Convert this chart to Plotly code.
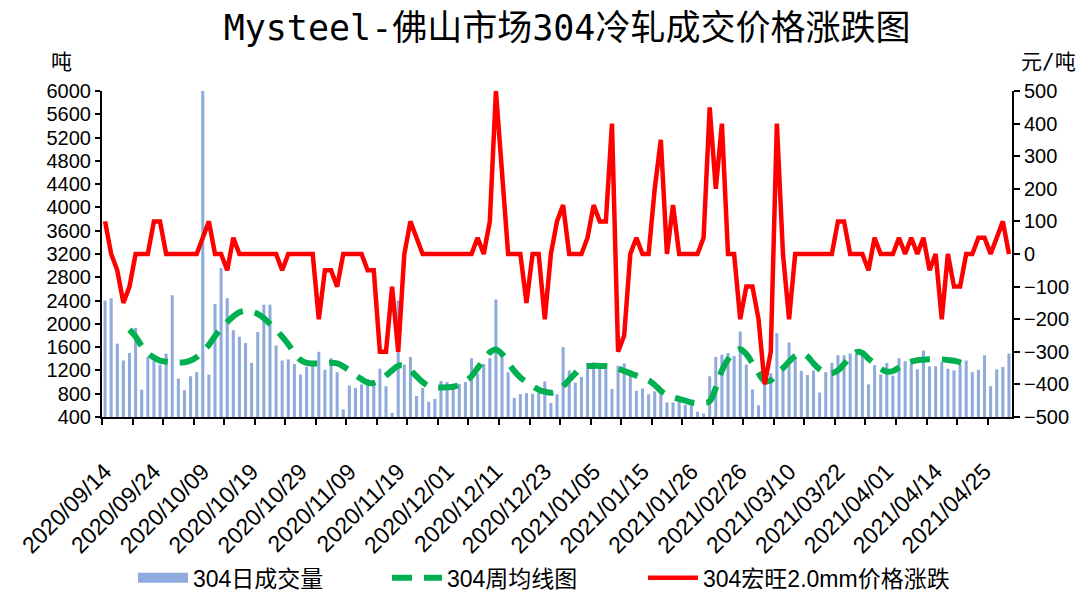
#!/usr/bin/env python
"""
Foshan 304 cold rolled: daily volume, weekly average and price change
"""

import plotly.graph_objects as go

# tick labels on the category axis, one every 8 trading days
tick_labels = [
    '2020/09/14', '2020/09/24', '2020/10/09', '2020/10/19', '2020/10/29',
    '2020/11/09', '2020/11/19', '2020/12/01', '2020/12/11', '2020/12/23',
    '2021/01/05', '2021/01/15', '2021/01/26', '2021/02/26', '2021/03/10',
    '2021/03/22', '2021/04/01', '2021/04/14', '2021/04/25'
]

# 304 daily volume (tonnes)
volume = [
    2400, 2440, 1660, 1370, 1500, 1930, 870, 1430, 1360, 1300,
    1490, 2490, 1060, 860, 1100, 1170, 6000, 1130, 2340, 2960,
    2440, 1890, 1780, 1670, 1330, 1860, 2330, 2330, 1630, 1370,
    1390, 1310, 1130, 1260, 1300, 1520, 1210, 1410, 1170, 530,
    940, 900, 960, 1050, 940, 1230, 930, 470, 2400, 1300,
    1430, 760, 900, 660, 710, 1020, 1000, 970, 970, 1000,
    1410, 1150, 1310, 1410, 2420, 1450, 1170, 730, 790, 810,
    800, 810, 1010, 640, 790, 1600, 1200, 990, 1090, 1330,
    1340, 1300, 1310, 880, 1280, 1320, 1200, 850, 890, 790,
    840, 820, 650, 650, 680, 610, 600, 490, 460, 1100,
    1430, 1470, 1500, 1450, 1870, 1300, 875, 600, 1100, 1150,
    1840, 1200, 1680, 1420, 1190, 1120, 1200, 820, 1170, 1330,
    1460, 1460, 1490, 1490, 1490, 960, 1290, 1130, 1330, 1110,
    1410, 1360, 1310, 1220, 1540, 1270, 1270, 1340, 1230, 1200,
    1300, 1370, 1170, 1210, 1460, 930, 1220, 1260, 1490
]

# 304 weekly average line (tonnes), blank where there is no value
weekly_avg = [
    None, None, None, None, 1900, 1780, 1620, 1500, 1420, 1370,
    1350, 1340, 1335, 1340, 1370, 1430, 1530, 1640, 1790, 1920,
    2030, 2130, 2200, 2225, 2210, 2170, 2100, 2000, 1900, 1780,
    1650, 1500, 1380, 1330, 1320, 1320, 1322, 1330, 1320, 1270,
    1200, 1120, 1050, 990, 985, 1030, 1110, 1200, 1280, 1280,
    1200, 1100, 1000, 930, 910, 905, 910, 920, 950, 1010,
    1100, 1240, 1380, 1510, 1560, 1480, 1330, 1190, 1080, 1000,
    930, 870, 835, 815, 840, 930, 1040, 1150, 1250, 1275,
    1278, 1278, 1276, 1260, 1230, 1190, 1150, 1110, 1070, 1030,
    950, 850, 780, 740, 710, 680, 650, 635, 640, 670,
    900, 1200, 1390, 1520, 1565, 1480, 1320, 1150, 1020, 1030,
    1150, 1240, 1350, 1450, 1495, 1440, 1320, 1220, 1160, 1150,
    1200, 1310, 1430, 1515, 1500, 1400, 1320, 1230, 1180, 1190,
    1250, 1310, 1350, 1375, 1385, 1390, 1392, 1390, 1380, 1365,
    1340, 1305, None, None, None, None, None, None, None
]

# 304 Hongwang 2.0mm price change (yuan/tonne)
price_change = [
    100, 0, -50, -150, -100, 0, 0, 0, 100, 100,
    0, 0, 0, 0, 0, 0, 50, 100, 0, 0,
    -50, 50, 0, 0, 0, 0, 0, 0, 0, -50,
    0, 0, 0, 0, 0, -200, -50, -50, -100, 0,
    0, 0, 0, -50, -50, -300, -300, -100, -300, 0,
    100, 50, 0, 0, 0, 0, 0, 0, 0, 0,
    0, 50, 0, 100, 500, 250, 0, 0, 0, -150,
    0, 0, -200, 0, 100, 150, 0, 0, 0, 50,
    150, 100, 100, 400, -300, -250, 0, 50, 0, 0,
    200, 350, 0, 150, 0, 0, 0, 0, 50, 450,
    200, 400, 0, 0, -200, -100, -100, -200, -400, -300,
    400, 0, -200, 0, 0, 0, 0, 0, 0, 0,
    100, 100, 0, 0, 0, -50, 50, 0, 0, 0,
    50, 0, 50, 0, 50, -50, 0, -200, 0, -100,
    -100, 0, 0, 50, 50, 0, 50, 100, 0
]

TEXT_FONT = 'Liberation Sans, Noto Sans CJK SC, sans-serif'
MONO_FONT = 'DejaVu Sans Mono, Noto Sans CJK SC, monospace'
BAR_COLOR = '#8FAADC'

# the page body adds 8px around the plot, so the figure is drawn 16px smaller
FIG_W = 1073
FIG_H = 585


def legend_box(left_px):
    "One legend per series, pinned at its own place under the chart"
    return dict(
        orientation='h', xref='container', x=left_px / FIG_W, xanchor='left',
        yref='container', y=0.026, yanchor='middle',
        font=dict(family=TEXT_FONT, size=23, color='black'),
        bgcolor='rgba(0,0,0,0)', itemwidth=50
    )


def build_figure():
    "Bars on the left axis, price change on the right axis"
    days = list(range(len(volume)))
    fig = go.Figure()
    fig.add_trace(go.Bar(
        x=days, y=volume, name='304日成交量', showlegend=False,
        marker=dict(color=BAR_COLOR, line=dict(width=0)),
        yaxis='y'
    ))
    # legend entry for the bars, drawn as a wide block like the original
    fig.add_trace(go.Scatter(
        x=[None], y=[None], name='304日成交量', mode='lines',
        line=dict(color=BAR_COLOR, width=17), yaxis='y', legend='legend'
    ))
    fig.add_trace(go.Scatter(
        x=days, y=weekly_avg, name='304周均线图', mode='lines',
        line=dict(color='#00B050', width=6, dash='20px,12px',
                  shape='spline', smoothing=1.0),
        yaxis='y', legend='legend2'
    ))
    fig.add_trace(go.Scatter(
        x=days, y=price_change, name='304宏旺2.0mm价格涨跌', mode='lines',
        line=dict(color='#FF0000', width=4.5),
        yaxis='y2', legend='legend3'
    ))

    axis_font = dict(family=TEXT_FONT, size=20, color='black')
    fig.update_layout(
        width=FIG_W, height=FIG_H,
        margin=dict(l=94, r=69, t=83, b=176),
        paper_bgcolor='white', plot_bgcolor='white',
        bargap=0.5,
        title=dict(
            text='Mysteel-佛山市场304冷轧成交价格涨跌图',
            x=0.521, xanchor='center', y=0.966, yanchor='middle',
            font=dict(family=MONO_FONT, size=35, color='black')
        ),
        xaxis=dict(
            range=[-0.5, len(volume) - 0.5],
            tickmode='array',
            tickvals=[i * 8 for i in range(len(tick_labels))],
            ticktext=tick_labels,
            tickangle=-45, ticks='',
            tickfont=dict(family=TEXT_FONT, size=23, color='black'),
            ticklabelstandoff=30,
            showline=True, linecolor='black', linewidth=2,
            showgrid=False, zeroline=False, automargin=False,
            minor=dict(tickmode='linear', tick0=-0.5, dtick=5,
                       ticks='outside', ticklen=6, tickwidth=2,
                       tickcolor='black', showgrid=False)
        ),
        yaxis=dict(
            range=[400, 6000], dtick=400, tick0=400,
            ticks='outside', ticklen=5, tickwidth=2, tickcolor='black',
            tickfont=axis_font,
            showline=True, linecolor='black', linewidth=2,
            showgrid=False, zeroline=False, automargin=False
        ),
        yaxis2=dict(
            range=[-500, 500], dtick=100,
            overlaying='y', side='right',
            ticks='outside', ticklen=6, tickwidth=2, tickcolor='black',
            tickfont=axis_font,
            showline=True, linecolor='black', linewidth=2,
            showgrid=False, zeroline=False, automargin=False
        ),
        legend=legend_box(125),
        legend2=legend_box(379),
        legend3=legend_box(635),
        annotations=[
            dict(text='吨', xref='paper', yref='paper', x=-0.044, y=1.089,
                 xanchor='center', yanchor='middle', showarrow=False,
                 font=dict(family=MONO_FONT, size=21, color='black')),
            dict(text='元/吨', xref='paper', yref='paper', x=1.04, y=1.089,
                 xanchor='center', yanchor='middle', showarrow=False,
                 font=dict(family=MONO_FONT, size=21, color='black'))
        ]
    )
    return fig


if __name__ == '__main__':
    figure = build_figure()
    figure.write_html('out.html')
